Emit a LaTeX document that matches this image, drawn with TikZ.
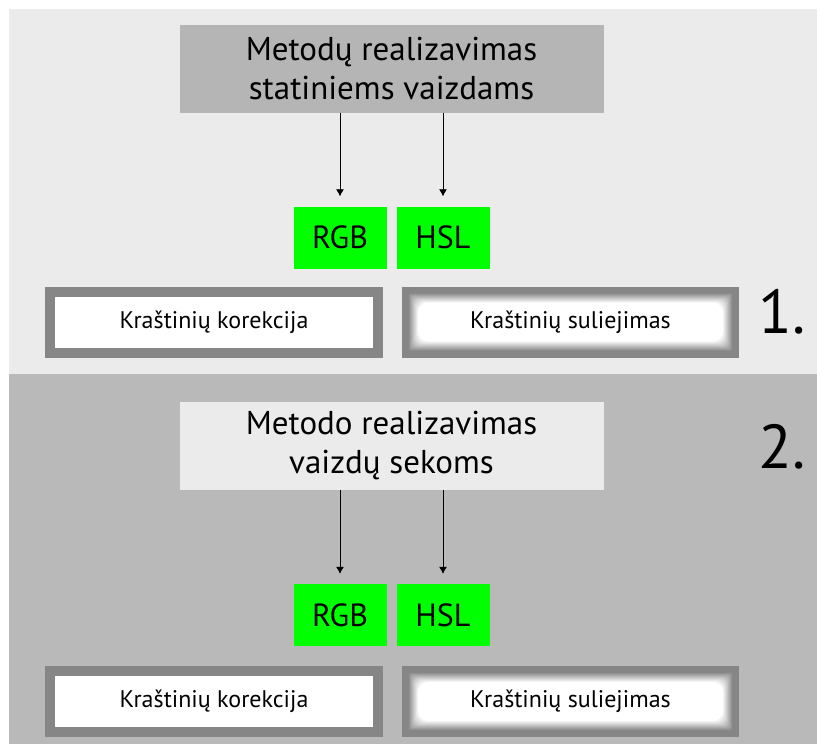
\documentclass[tikz,border=0pt]{standalone}
\usepackage{fontspec}
\setmainfont{PT Sans}
\usetikzlibrary{trees,positioning,arrows.meta}

\definecolor{panelone}{HTML}{EBEBEB}
\definecolor{paneltwo}{HTML}{B9B9B9}
\definecolor{headgray}{HTML}{B5B5B5}
\definecolor{framegray}{HTML}{868686}
\definecolor{chanfill}{HTML}{00FF00}

\begin{document}
\begin{tikzpicture}[x=1pt,y=-1pt,
  		head/.style={rectangle,inner sep=0pt,minimum width=424pt,minimum height=88pt,
    		align=center,font=\fontsize{33}{39}\selectfont},
  		chan/.style={rectangle,fill=chanfill,inner sep=0pt,minimum width=93pt,minimum height=62pt,
    		font=\fontsize{32}{36}\selectfont},
  		frame/.style={rectangle,fill=white,draw=framegray,line width=10pt,
    		minimum width=328pt,minimum height=61pt,font=\fontsize{24}{28}\selectfont},
  		glowframe/.style={rectangle,fill=framegray,inner sep=0pt,
    		minimum width=337pt,minimum height=71pt,font=\fontsize{24}{28}\selectfont,
    		path picture={\foreach \k in {0,...,10}
      			\fill[white!\k0!framegray,rounded corners=\k pt]
        		([shift={(6+\k,6+\k)}]path picture bounding box.north west) rectangle
        		([shift={(-6-\k,-6-\k)}]path picture bounding box.south east);}},
  		stage/.style={font=\fontsize{62}{62}\selectfont,inner sep=0pt,anchor=base east},
  		level 1/.style={sibling distance=103pt,level distance=169pt},
  		edge from parent/.style={draw,line width=0.8pt,-{Latex[length=7pt,width=8pt]}},
  		edge from parent path={(\tikzchildnode.north |- \tikzparentnode.south) --
    		([yshift=10pt]\tikzchildnode.north)}]
    		% Panels
    		\useasboundingbox (0,0) rectangle (817,744);
    		\fill[panelone] (9,9) rectangle (817,374);
    		\fill[paneltwo] (9,374) rectangle (817,744);
    		% Parent 1 and children
      		\node[head,fill=headgray] (static) at (391.5,68.5) {Metodų realizavimas\\statiniems vaizdams}
    			child {node[chan] (rgbone) {RGB}}
    			child {node[chan] (hslone) {HSL}};
      		\node[frame] (corrone) at (214,322) {Kraštinių korekcija};
      		\node[glowframe] (blurone) at (570.5,322) {Kraštinių suliejimas};
      		\node[stage] (stageone) at (806,333) {1.};
    		% Parent 2 and children
      		\node[head,fill=panelone] (video) at (391.5,446) {Metodo realizavimas\\vaizdų sekoms}
    			child {node[chan] (rgbtwo) {RGB}}
    			child {node[chan] (hsltwo) {HSL}};
      		\node[frame] (corrtwo) at (214,701.5) {Kraštinių korekcija};
      		\node[glowframe] (blurtwo) at (570.5,701.5) {Kraštinių suliejimas};
      		\node[stage] (stagetwo) at (806,468) {2.};
	\end{tikzpicture}
\end{document}
